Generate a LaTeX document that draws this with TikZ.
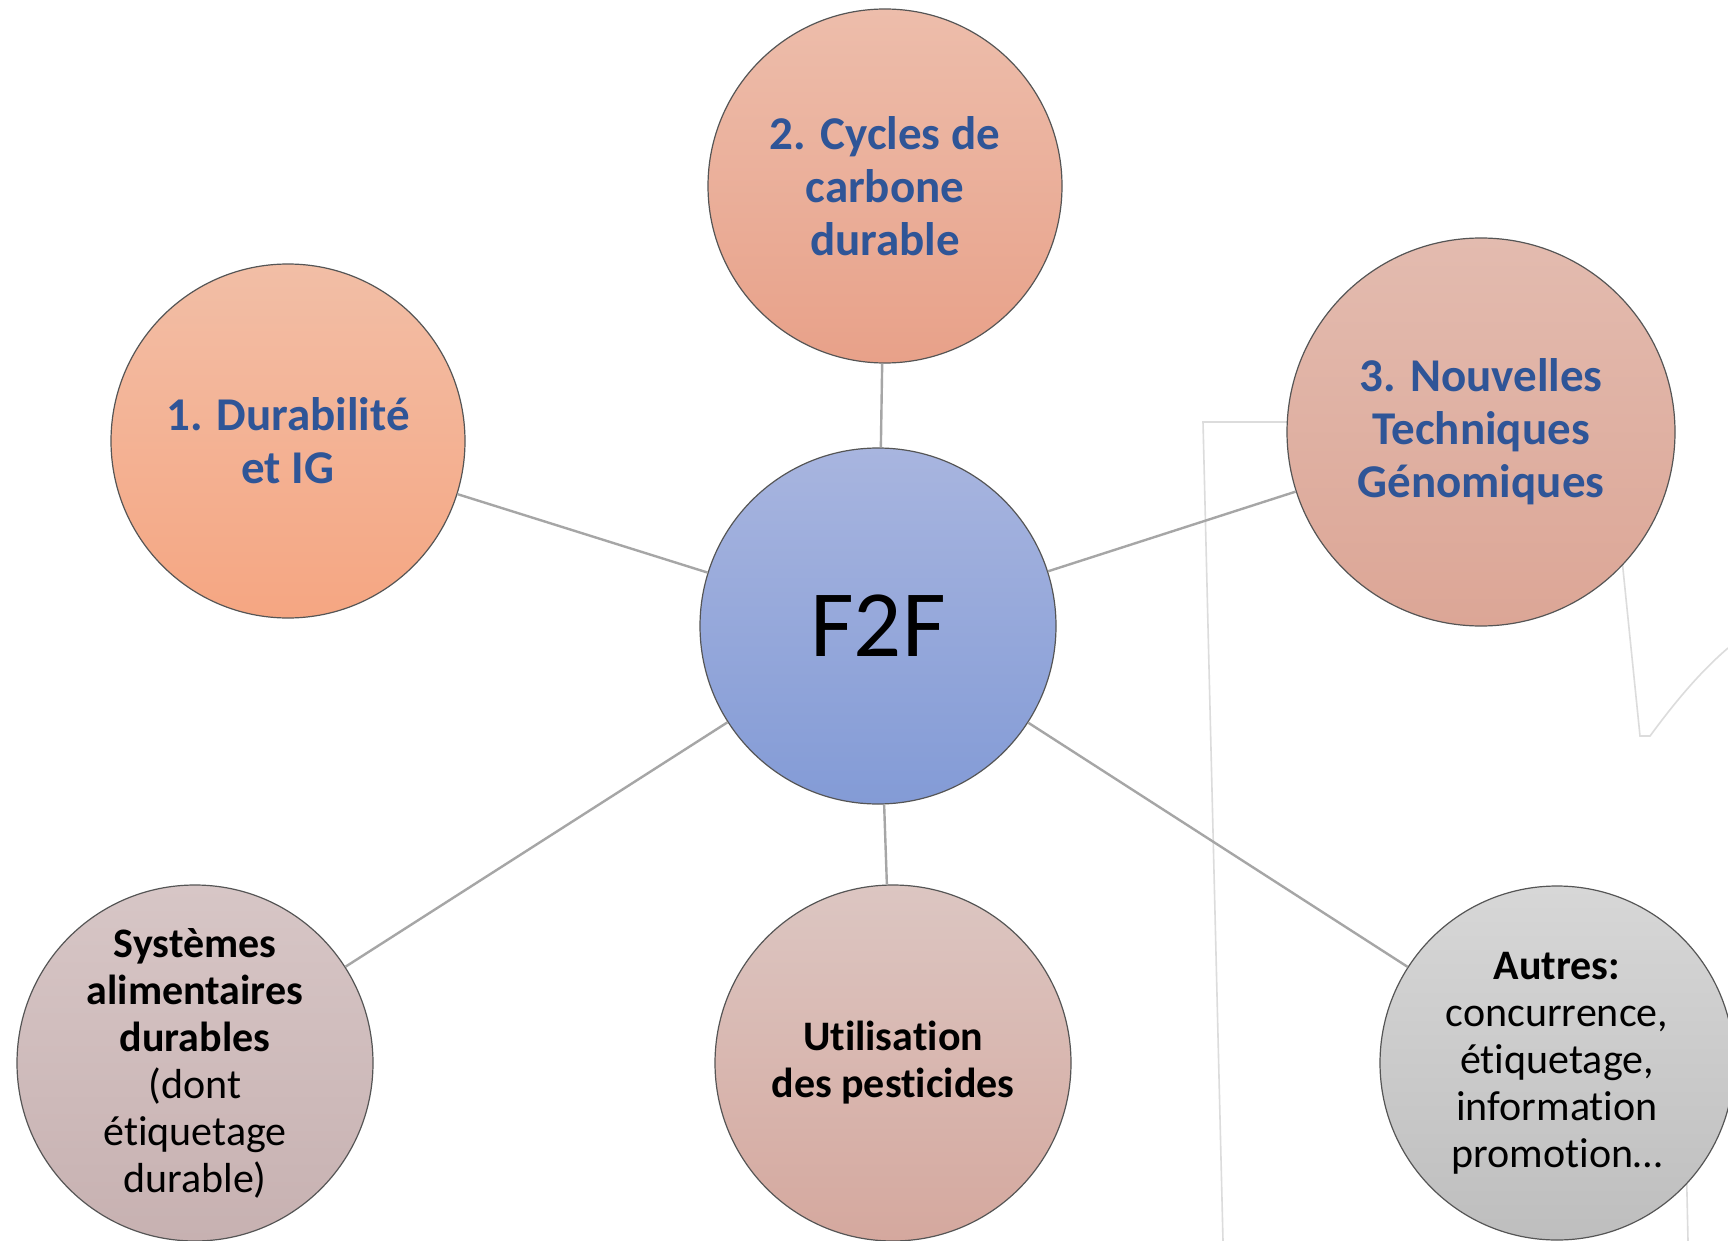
\documentclass[tikz,border=0pt]{standalone}
\usepackage{fontspec}
\setmainfont{Carlito}[Ligatures={NoCommon,NoContextual}]
\definecolor{linkgray}{RGB}{166,166,166}
\definecolor{faint}{RGB}{220,220,220}
\definecolor{rim}{RGB}{85,85,85}
\definecolor{tblue}{RGB}{47,85,151}
\begin{document}
\begin{tikzpicture}[x=0.5pt,y=-0.5pt,
  bubble/.style={circle,draw=rim,line width=0.6pt,minimum size=#1,inner sep=0pt},
  link/.style={draw=linkgray,line width=1.2pt},
  bgline/.style={draw=faint,line width=0.8pt},
  toptxt/.style={align=center,text=tblue,font=\fontsize{23.5pt}{26.5pt}\selectfont\bfseries},
  bottxt/.style={align=center,text=black,font=\fontsize{21pt}{23.5pt}\selectfont}]
\clip (0,0) rectangle (1728,1241);
\fill[white] (0,0) rectangle (1728,1241);
% faint background lines
\draw[bgline] (1300,422) -- (1203,422) -- (1223,1241);
\draw[bgline] (1620,540) -- (1640,736) -- (1650,736) .. controls (1675,702) and (1700,672) .. (1728,648);
\draw[bgline] (1686,1150) -- (1688,1241);
% circles
\node[bubble=178pt,top color={rgb,255:red,168;green,181;blue,223},bottom color={rgb,255:red,131;green,155;blue,214}] (f2f) at (878,626) {};
\node[bubble=177pt,top color={rgb,255:red,242;green,190;blue,166},bottom color={rgb,255:red,245;green,166;blue,130}] (n1) at (288,441) {};
\node[bubble=177pt,top color={rgb,255:red,237;green,189;blue,171},bottom color={rgb,255:red,232;green,161;blue,137}] (n2) at (885,186) {};
\node[bubble=194pt,top color={rgb,255:red,227;green,187;blue,175},bottom color={rgb,255:red,220;green,166;blue,150}] (n3) at (1481,432) {};
\node[bubble=178pt,top color={rgb,255:red,215;green,198;blue,198},bottom color={rgb,255:red,199;green,177;blue,177}] (n4) at (195,1063) {};
\node[bubble=178pt,top color={rgb,255:red,220;green,198;blue,194},bottom color={rgb,255:red,213;green,168;blue,158}] (n5) at (893,1063) {};
\node[bubble=177pt,top color={rgb,255:red,215;green,215;blue,215},bottom color={rgb,255:red,190;green,190;blue,190}] (n6) at (1557,1063) {};
% connectors
\draw[link] (f2f) -- (n1);
\draw[link] (f2f) -- (n2);
\draw[link] (f2f) -- (n3);
\draw[link] (f2f) -- (n4);
\draw[link] (f2f) -- (n5);
\draw[link] (f2f) -- (n6);
% texts
\node[font=\fontsize{47.5pt}{56pt}\selectfont] (t0) at (f2f) {F2F};
\node[toptxt] (t1) at (n1) {1. Durabilité\\et IG};
\node[toptxt] (t2) at (n2) {2. Cycles de\\carbone\\durable};
\node[toptxt] (t3) at (n3) {3. Nouvelles\\Techniques\\Génomiques};
\node[bottxt] (t4) at (n4) {\textbf{Systèmes}\\\textbf{alimentaires}\\\textbf{durables}\\(dont\\étiquetage\\durable)};
\node[bottxt] (t5) at (n5) {\textbf{Utilisation}\\\textbf{des pesticides}};
\node[bottxt] (t6) at (n6) {\textbf{Autres:}\\concurrence,\\étiquetage,\\information\\promotion…};
\end{tikzpicture}
\end{document}
